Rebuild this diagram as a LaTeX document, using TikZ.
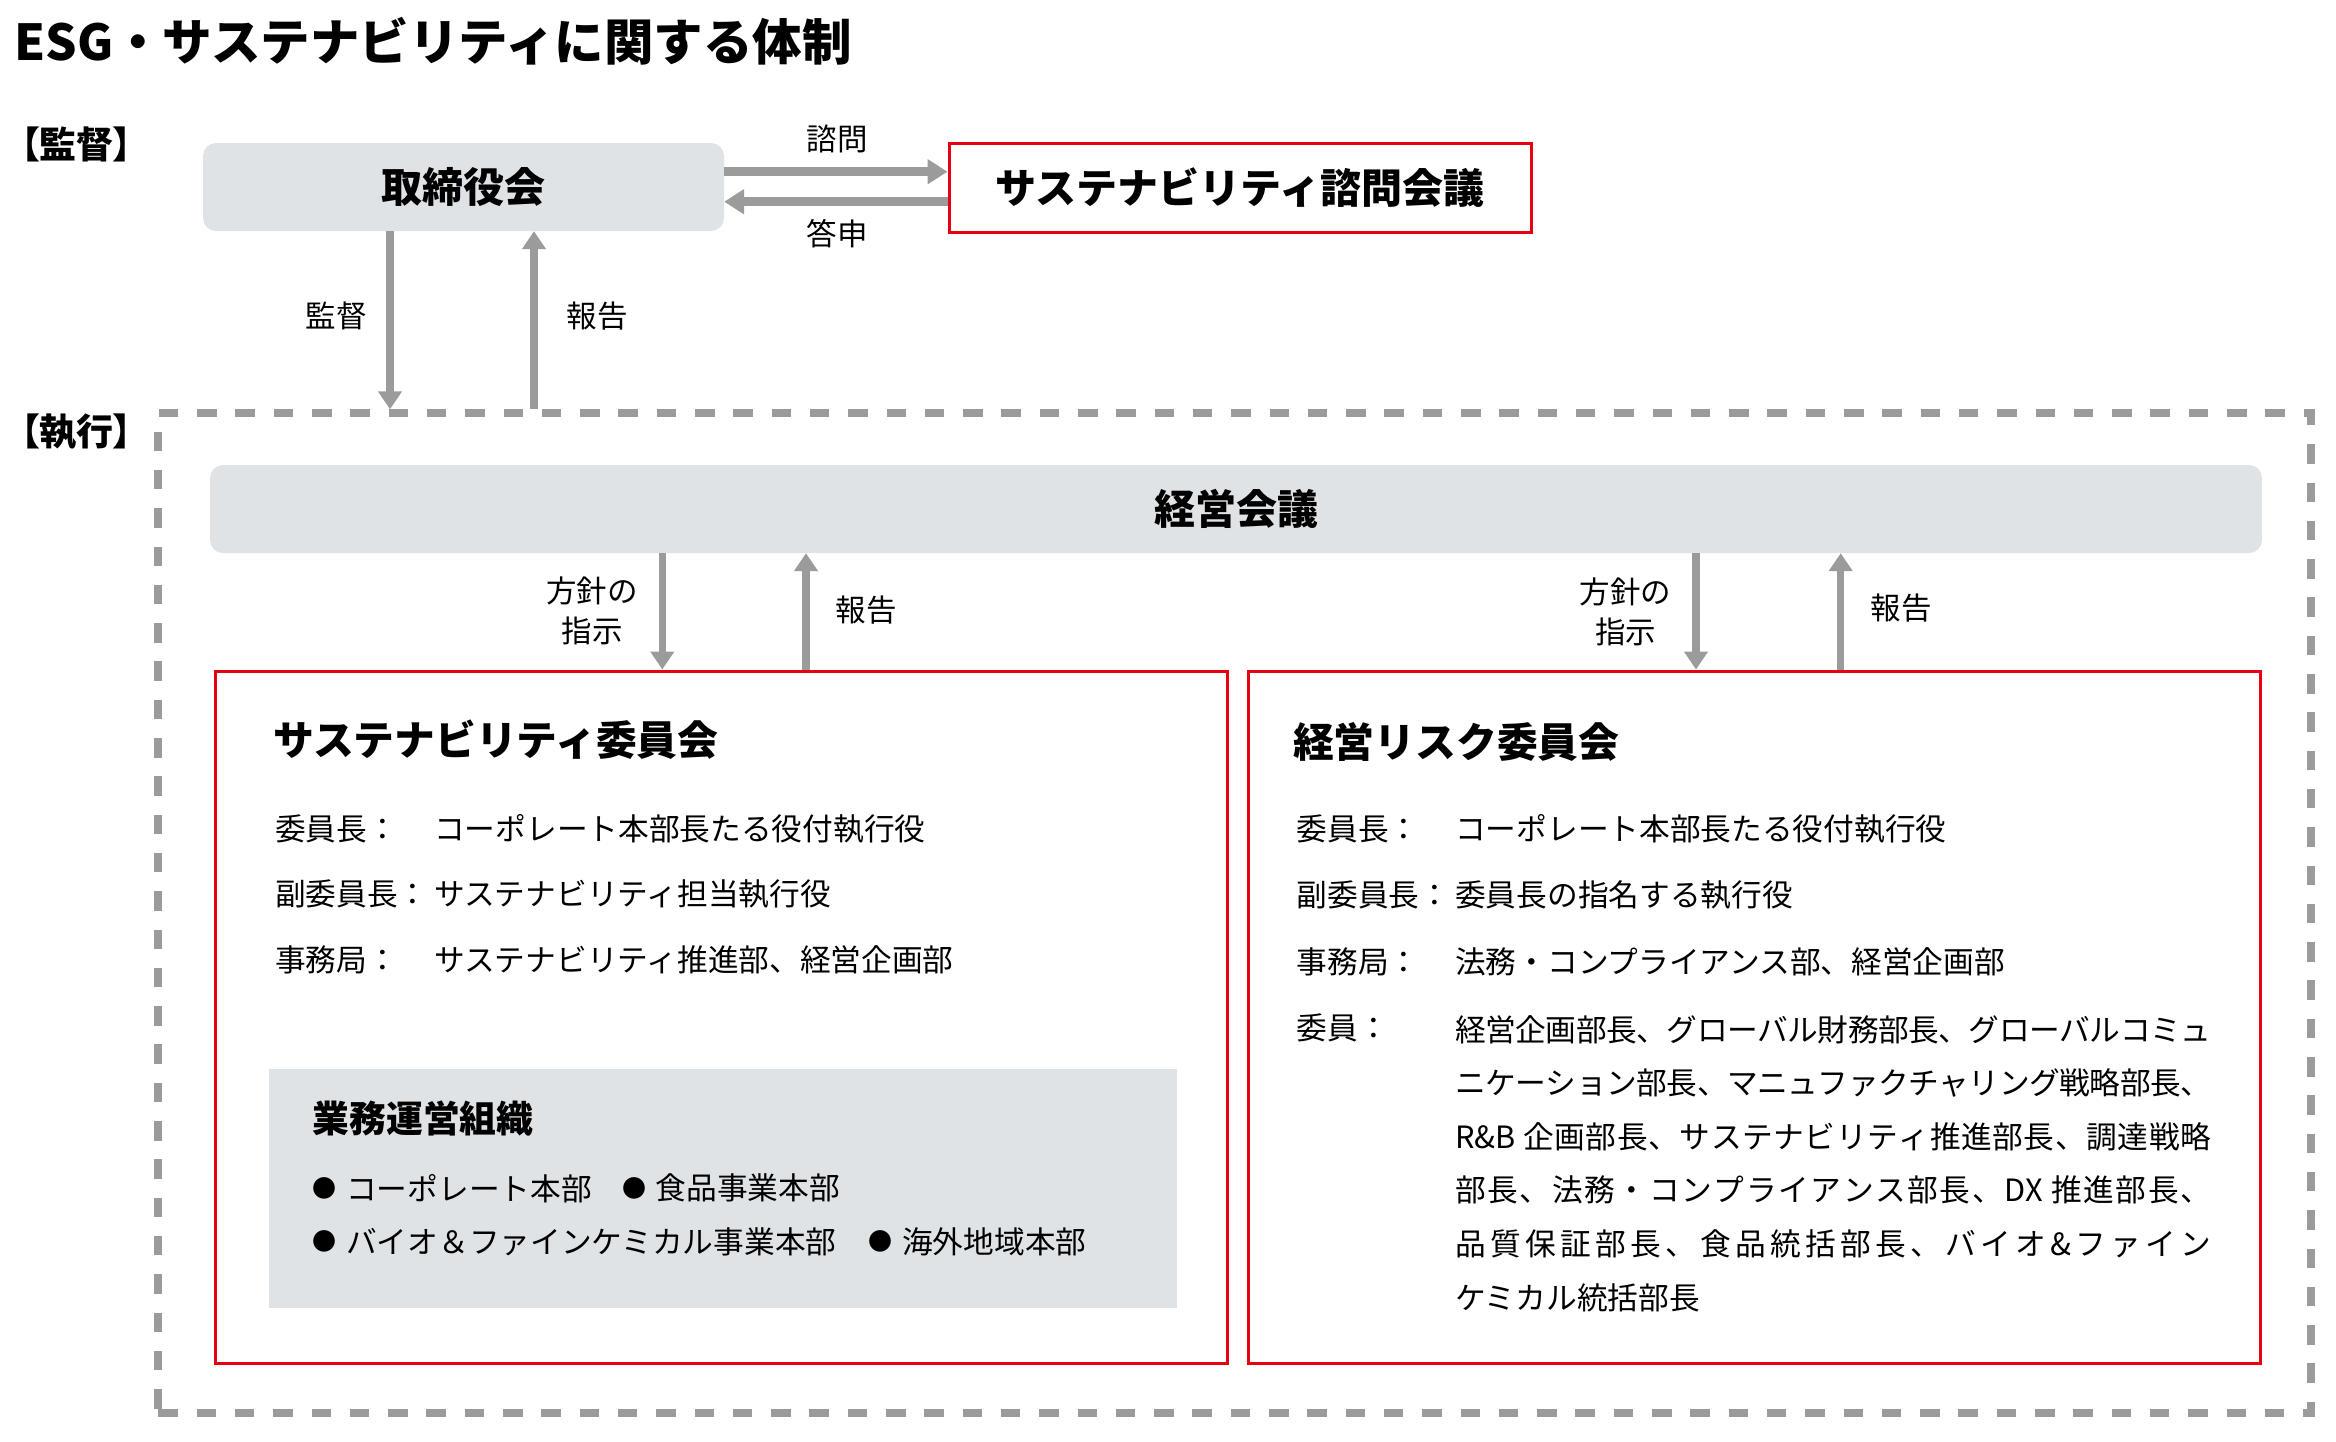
\documentclass[tikz,border=0pt]{standalone}
\usepackage{fontspec}
\setmainfont{Noto Sans CJK JP}
\newfontfamily\paltfont{Noto Sans CJK JP}[RawFeature=+palt]
\usetikzlibrary{arrows.meta}
\definecolor{arrgray}{HTML}{9B9B9B}
\definecolor{boxgray}{HTML}{DFE3E6}
\definecolor{jred}{HTML}{E60012}
\makeatletter
\def\sprd#1{\hbox to 756pt{\sprd@a#1\sprd@end}}
\def\sprd@a#1#2\sprd@end{#1\ifx\relax#2\relax\else\hskip0pt plus 1fil minus 1.5pt\sprd@a#2\sprd@end\fi}
\makeatother
\tikzset{
  lbl/.style={inner sep=0pt, font=\fontsize{30.5}{40.5}\selectfont, align=center},
  body/.style={inner sep=0pt, anchor=west, font=\fontsize{30.7}{36}\selectfont},
  head/.style={inner sep=0pt, anchor=west, font=\fontsize{40.8}{48}\selectfont\bfseries},
  graybox/.style={fill=boxgray, rounded corners=13pt, inner sep=0pt, font=\fontsize{41}{48}\selectfont\bfseries},
  redbox/.style={draw=jred, line width=3pt, inner sep=0pt},
  varrow/.style={draw=arrgray, line width=7.3pt, -{Triangle[width=23pt,length=18pt]}},
  harrow/.style={draw=arrgray, line width=8.5pt, -{Triangle[width=24pt,length=20pt]}},
  sect/.style={inner sep=0pt, anchor=west, font=\paltfont\bfseries\fontsize{37}{44}\selectfont},
  bullet/.style={inner sep=0pt, font=\fontsize{24}{28}\selectfont},
  frame/.style={draw=arrgray, line width=8pt, dash pattern=on 19.5pt off 18.8pt, inner sep=0pt}
}
\begin{document}
\begin{tikzpicture}[x=1pt,y=-1pt]
\useasboundingbox (0,0) rectangle (2336,1441);
% title
\node[inner sep=0pt, anchor=west, font=\fontsize{49.5}{56}\selectfont\bfseries] (title) at (14,41.5) {ESG・サステナビリティに関する体制};
% section labels
\node[sect] (secA) at (21,144.6) {【監督】};
\node[sect] (secB) at (21,432) {【執行】};
% boxes
\node[graybox, minimum width=521pt, minimum height=88pt] (tori) at (463.5,187) {取締役会};
\node[redbox, minimum width=582pt, minimum height=89pt, font=\fontsize{41}{48}\selectfont\bfseries] (shimon) at (1240,187.5) {サステナビリティ諮問会議};
\node[frame, minimum width=2152.7pt, minimum height=1000pt] (exec) at (1234.65,913.3) {};
\node[graybox, minimum width=2052pt, minimum height=88pt] (keiei) at (1236,509) {経営会議};
\node[redbox, minimum width=1012pt, minimum height=692pt] (lbox) at (721.7,1017) {};
\node[redbox, minimum width=1012pt, minimum height=692pt] (rbox) at (1754,1017) {};
\node[fill=boxgray, inner sep=0pt, minimum width=907.2pt, minimum height=239.3pt] (gyomu) at (722.9,1188.65) {};
% helper coordinates
\coordinate (hy1) at (0,171.7);
\coordinate (hy2) at (0,201.7);
\coordinate (vx1) at (390,0);
\coordinate (vx2) at (534,0);
\coordinate (vx3) at (662.3,0);
\coordinate (vx4) at (806,0);
\coordinate (vx5) at (1696,0);
\coordinate (vx6) at (1840.7,0);
% arrows
\draw[harrow] (tori.east |- hy1) -- (shimon.west |- hy1);
\draw[harrow] (shimon.west |- hy2) -- (tori.east |- hy2);
\draw[varrow] (vx1 |- tori.south) -- (vx1 |- exec.north);
\draw[varrow] (vx2 |- exec.north) -- (vx2 |- tori.south);
\draw[varrow] (vx3 |- keiei.south) -- (vx3 |- lbox.north);
\draw[varrow] (vx4 |- lbox.north) -- (vx4 |- keiei.south);
\draw[varrow] (vx5 |- keiei.south) -- (vx5 |- rbox.north);
\draw[varrow] (vx6 |- rbox.north) -- (vx6 |- keiei.south);
% arrow labels
\node[lbl] (lq) at (837,139) {諮問};
\node[lbl] (la) at (837,234) {答申};
\node[lbl] (lk) at (336,316) {監督};
\node[lbl] (lh) at (597,316) {報告};
\node[lbl] (ls1) at (592,611) {方針の\\指示};
\node[lbl] (lh1) at (866,609.7) {報告};
\node[lbl] (ls2) at (1625.6,612) {方針の\\指示};
\node[lbl] (lh2) at (1901,608) {報告};
% left committee
\node[head] (lt) at (272.8,739.8) {サステナビリティ委員会};
\node[body] (l1a) at (274.9,828.6) {委員長：};
\node[body] (l1b) at (434,828.6) {コーポレート本部長たる役付執行役};
\node[body] (l2a) at (274.9,894) {副委員長：};
\node[body] (l2b) at (434,894) {サステナビリティ担当執行役};
\node[body] (l3a) at (274.9,960) {事務局：};
\node[body] (l3b) at (434,960) {サステナビリティ推進部、経営企画部};
\node[inner sep=0pt, anchor=west, font=\fontsize{36.8}{44}\selectfont\bfseries] (gt) at (312.5,1118.3) {業務運営組織};
\node[bullet] (b1) at (324,1188.3) {●};
\node[body] (b1t) at (346,1188.3) {コーポレート本部};
\node[bullet] (b2) at (634,1188.3) {●};
\node[body] (b2t) at (655.5,1188.3) {食品事業本部};
\node[bullet] (b3) at (324,1241.7) {●};
\node[body] (b3t) at (346,1241.7) {バイオ＆ファインケミカル事業本部};
\node[bullet] (b4) at (880.5,1241.7) {●};
\node[body] (b4t) at (902,1241.7) {海外地域本部};
% right committee
\node[head] (rt) at (1292.8,741.5) {経営リスク委員会};
\node[body] (r1a) at (1296.4,828.6) {委員長：};
\node[body] (r1b) at (1455,828.6) {コーポレート本部長たる役付執行役};
\node[body] (r2a) at (1296.4,894.6) {副委員長：};
\node[body] (r2b) at (1455,894.6) {委員長の指名する執行役};
\node[body] (r3a) at (1296.4,961.6) {事務局：};
\node[body] (r3b) at (1455,961.6) {法務・コンプライアンス部、経営企画部};
\node[body] (r4a) at (1296.4,1028) {委員：};
\node[body] (m1) at (1455,1029.5) {\sprd{経営企画部長、グローバル財務部長、グローバルコミュ}};
\node[body] (m2) at (1455,1083.1) {\sprd{ニケーション部長、マニュファクチャリング戦略部長、}};
\node[body] (m3) at (1455,1136.7) {\sprd{{R\&B~}企画部長、サステナビリティ推進部長、調達戦略}};
\node[body] (m4) at (1455,1190.3) {\sprd{部長、法務・コンプライアンス部長、{DX~}推進部長、}};
\node[body] (m5) at (1455,1243.9) {\sprd{品質保証部長、食品統括部長、バイオ\&ファイン}};
\node[body] (m6) at (1455,1297.5) {ケミカル統括部長};
\end{tikzpicture}
\end{document}
